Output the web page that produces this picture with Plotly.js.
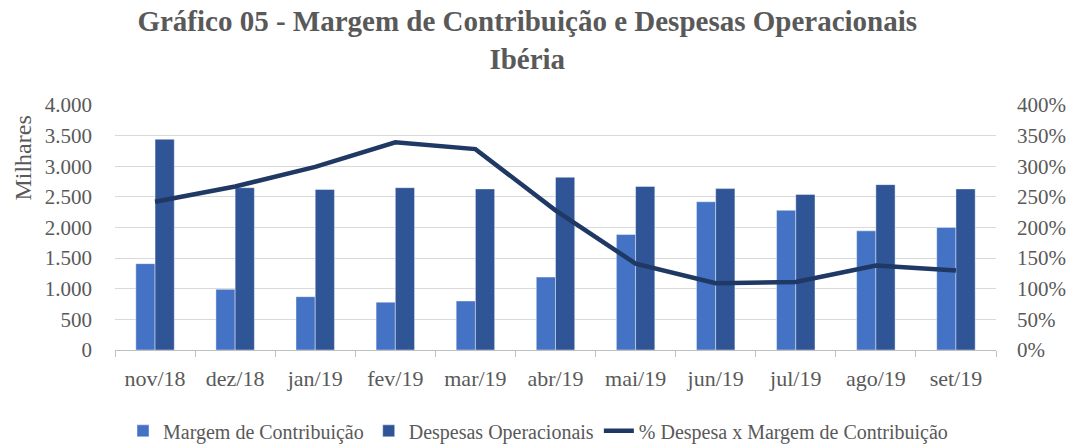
<!DOCTYPE html>
<html>
<head>
<meta charset="utf-8">
<script src="https://cdn.plot.ly/plotly-3.0.1.min.js"></script>
<style>html,body{margin:0;padding:0;background:#fff;}#chart{width:1076px;height:444px;}</style>
</head>
<body>
<div id="chart"></div>
<script>
const categories = ["nov/18","dez/18","jan/19","fev/19","mar/19","abr/19","mai/19","jun/19","jul/19","ago/19","set/19"];
const margem = [1410, 990, 870, 780, 800, 1190, 1885, 2420, 2280, 1945, 2000];
const despesas = [3440, 2650, 2620, 2650, 2630, 2820, 2670, 2635, 2540, 2700, 2630];
const percentual = [2.42, 2.67, 2.99, 3.39, 3.28, 2.28, 1.41, 1.09, 1.11, 1.38, 1.30];
const leftTicks = [0,500,1000,1500,2000,2500,3000,3500,4000];
const leftTickText = ["0","500","1.000","1.500","2.000","2.500","3.000","3.500","4.000"];
const rightTicks = [0,0.5,1,1.5,2,2.5,3,3.5,4];
const rightTickText = ["0%","50%","100%","150%","200%","250%","300%","350%","400%"];

const FONT = "Liberation Serif, Times New Roman, serif";
const TXT = "#595959";

const data = [
  {type:"bar", name:"Margem de Contribuição", x:categories, y:margem,
   marker:{color:"#4472C4", line:{color:"rgba(255,255,255,0.55)", width:0.75}}, yaxis:"y"},
  {type:"bar", name:"Despesas Operacionais", x:categories, y:despesas,
   marker:{color:"#2F5597", line:{color:"rgba(255,255,255,0.55)", width:0.75}}, yaxis:"y"},
  {type:"scatter", mode:"lines", name:"% Despesa x Margem de Contribuição", x:categories, y:percentual,
   line:{color:"#1F3864", width:4.5}, yaxis:"y2"}
];

const layout = {
  width:1076, height:444,
  margin:{l:115, r:80, t:105, b:94, pad:0, autoexpand:false},
  paper_bgcolor:"#fff", plot_bgcolor:"#fff",
  font:{family:FONT, color:TXT, size:20},
  title:{text:"Gráfico 05 - Margem de Contribuição e Despesas Operacionais<br>Ibéria",
         x:0.49, xref:"container", y:0.93, yref:"container", yanchor:"top",
         font:{family:FONT, size:29, weight:700, color:TXT}},
  barmode:"group", bargap:0.52, bargroupgap:0,
  showlegend:true,
  legend:{orientation:"h", x:0.5, xanchor:"center", xref:"container", y:-0.33, yanchor:"middle",
          font:{family:FONT, size:20, color:TXT}, tracegroupgap:0, itemwidth:30},
  xaxis:{type:"category", showgrid:false, showline:true, linecolor:"#bfbfbf", linewidth:1,
         ticks:"outside", tickson:"boundaries", ticklen:6, tickcolor:"#bfbfbf", tickangle:0,
         ticklabelstandoff:9, tickfont:{family:FONT, size:22, color:TXT}, fixedrange:true},
  yaxis:{range:[0,4000], tickvals:leftTicks, ticktext:leftTickText, showgrid:true, gridcolor:"#d9d9d9",
         gridwidth:1, zeroline:false, showline:false, ticks:"", ticklabelstandoff:22,
         tickfont:{family:FONT, size:21, color:TXT}},
  yaxis2:{range:[0,4], overlaying:"y", side:"right", tickvals:rightTicks, ticktext:rightTickText,
          showgrid:false, zeroline:false, showline:false, ticks:"", ticklabelstandoff:20,
          tickfont:{family:FONT, size:21, color:TXT}},
  annotations:[{text:"Milhares", xref:"paper", yref:"paper", x:-0.1, y:0.785, xanchor:"center",
                yanchor:"middle", textangle:-90, showarrow:false, font:{family:FONT, size:24, color:TXT},
                xshift:-4}]
};

Plotly.newPlot("chart", data, layout, {displayModeBar:false, staticPlot:true});
</script>
</body>
</html>
